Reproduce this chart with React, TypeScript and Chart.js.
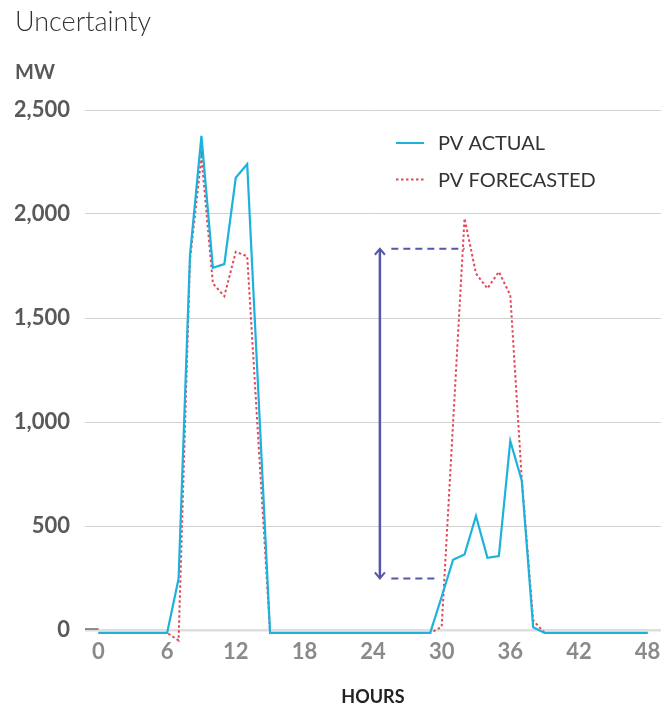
import { useEffect, useRef } from 'react';
import { Chart, registerables } from 'chart.js';

Chart.register(...registerables);

const hours = [
  0, 1, 2, 3, 4, 5, 6, 7, 8, 9, 10, 11, 12, 13, 14, 15, 16, 17, 18, 19, 20, 21, 22, 23, 24,
  25, 26, 27, 28, 29, 30, 31, 32, 33, 34, 35, 36, 37, 38, 39, 40, 41, 42, 43, 44, 45, 46, 47, 48,
];

const pvActual = [
  -14, -14, -14, -14, -14, -14, -14,
  246, 1802, 2376, 1741, 1759, 2174, 2240, 1113,
  -14, -14, -14, -14, -14, -14, -14, -14, -14, -14, -14, -14, -14, -14, -14,
  160, 338, 363, 548, 347, 355, 909, 719, 13,
  -14, -14, -14, -14, -14, -14, -14, -14, -14, -14,
];

const pvForecast = [
  -14, -14, -14, -14, -14, -14, -14,
  -50, 1780, 2275, 1666, 1605, 1818, 1797, 890,
  -14, -14, -14, -14, -14, -14, -14, -14, -14, -14, -14, -14, -14, -14, -14,
  15, 997, 1979, 1714, 1642, 1722, 1610, 730, 46,
  -14, -14, -14, -14, -14, -14, -14, -14, -14, -14,
];

const xTickValues = [0, 6, 12, 18, 24, 30, 36, 42, 48];
const yTickValues = [0, 500, 1000, 1500, 2000, 2500];

// uncertainty annotation (hours / MW)
const arrowHour = 24.6;
const bandLow = 248;
const bandHigh = 1833;
const dashStartHour = 25.6;
const dashEndLowHour = 29.7;
const dashEndHighHour = 32;

const seriesLabels = ['PV ACTUAL', 'PV FORECASTED'];
const BLUE = '#1cb2dc';
const RED = '#e2485a';
const ARROW = '#5457a6';

const annotationPlugin = {
  id: 'uncertaintyAnnotation',
  afterDatasetsDraw(chart: any) {
    const { ctx, chartArea } = chart;
    const xs = chart.scales.x;
    const ys = chart.scales.y;
    ctx.save();

    // short dark tick at zero
    const y0 = ys.getPixelForValue(0);
    ctx.strokeStyle = '#6a6a6a';
    ctx.lineWidth = 1.5;
    ctx.beginPath();
    ctx.moveTo(chartArea.left, y0 - 1);
    ctx.lineTo(xs.getPixelForValue(0), y0 - 1);
    ctx.stroke();

    // arrow
    const ax = xs.getPixelForValue(arrowHour);
    const yTop = ys.getPixelForValue(bandHigh);
    const yBot = ys.getPixelForValue(bandLow);
    ctx.strokeStyle = ARROW;
    ctx.lineWidth = 2.5;
    ctx.beginPath();
    ctx.moveTo(ax, yTop + 1);
    ctx.lineTo(ax, yBot - 1);
    ctx.stroke();
    ctx.lineWidth = 2;
    ctx.beginPath();
    ctx.moveTo(ax - 5, yTop + 6);
    ctx.lineTo(ax, yTop);
    ctx.lineTo(ax + 5, yTop + 6);
    ctx.moveTo(ax - 5, yBot - 6);
    ctx.lineTo(ax, yBot);
    ctx.lineTo(ax + 5, yBot - 6);
    ctx.stroke();

    // dashed guides
    ctx.setLineDash([7, 5]);
    ctx.lineWidth = 2;
    ctx.beginPath();
    ctx.moveTo(xs.getPixelForValue(dashStartHour), yTop);
    ctx.lineTo(xs.getPixelForValue(dashEndHighHour), yTop);
    ctx.moveTo(xs.getPixelForValue(dashStartHour), yBot);
    ctx.lineTo(xs.getPixelForValue(dashEndLowHour), yBot);
    ctx.stroke();
    ctx.setLineDash([]);

    // legend
    const lx = chartArea.left + 311;
    const ly = chartArea.top + 33;
    const rowGap = 36.6;
    const colors = [BLUE, RED];
    seriesLabels.forEach((label, i) => {
      const yy = ly + i * rowGap;
      ctx.strokeStyle = colors[i];
      ctx.lineWidth = 2;
      ctx.setLineDash(i === 1 ? [2.5, 2.5] : []);
      ctx.beginPath();
      ctx.moveTo(lx, yy);
      ctx.lineTo(lx + 28, yy);
      ctx.stroke();
      ctx.setLineDash([]);
      ctx.fillStyle = '#333333';
      ctx.font = '400 20px Lato';
      ctx.textBaseline = 'middle';
      ctx.textAlign = 'left';
      ctx.fillText(label, lx + 42, yy + 0.5);
    });

    ctx.restore();
  },
};

export default function App() {
  const canvasRef = useRef<HTMLCanvasElement | null>(null);

  useEffect(() => {
    if (!canvasRef.current) return;
    const chart = new Chart(canvasRef.current, {
      type: 'line',
      data: {
        datasets: [
          {
            label: seriesLabels[0],
            data: hours.map((h, i) => ({ x: h, y: pvActual[i] })),
            borderColor: BLUE,
            backgroundColor: BLUE,
            borderWidth: 2.2,
            pointRadius: 0,
            tension: 0,
            clip: false as any,
          },
          {
            label: seriesLabels[1],
            data: hours.map((h, i) => ({ x: h, y: pvForecast[i] })),
            borderColor: RED,
            backgroundColor: RED,
            borderWidth: 2,
            borderDash: [2.5, 2.5],
            pointRadius: 0,
            tension: 0,
            clip: false as any,
          },
        ],
      },
      options: {
        animation: false,
        responsive: false,
        layout: { padding: { left: 15, right: 8, top: 0, bottom: 1.5 } },
        plugins: {
          legend: { display: false },
          tooltip: { enabled: false },
          title: {
            display: true,
            text: 'Uncertainty',
            align: 'start',
            color: '#333333',
            font: { family: 'Lato', size: 27, weight: '300' as any },
            padding: { top: 6.5, bottom: 10 },
          },
          subtitle: {
            display: true,
            text: 'MW',
            align: 'start',
            color: '#58595b',
            font: { family: 'Lato', size: 20, weight: 'bold' },
            padding: { top: 12, bottom: 25.1 },
          },
        },
        scales: {
          x: {
            type: 'linear',
            min: -1.18,
            max: 49.16,
            afterBuildTicks: (scale: any) => {
              scale.ticks = xTickValues.map((v) => ({ value: v }));
            },
            grid: { display: false, drawTicks: false },
            border: { display: false },
            ticks: {
              color: '#8a8a8c',
              font: { family: 'Lato', size: 22, weight: 'bold' },
              padding: 8.5,
              maxRotation: 0,
              autoSkip: false,
            },
            title: {
              display: true,
              text: 'HOURS',
              color: '#222222',
              font: { family: 'Lato', size: 18, weight: 'bold' },
              padding: { top: 12.5, bottom: 0 },
            },
          },
          y: {
            min: 0,
            max: 2500,
            afterBuildTicks: (scale: any) => {
              scale.ticks = yTickValues.map((v) => ({ value: v }));
            },
            afterFit: (scale: any) => {
              scale.width = 70;
            },
            grid: {
              drawTicks: false,
              color: (c: any) => (c.tick && c.tick.value === 0 ? '#dedede' : '#d2d2d2'),
              lineWidth: (c: any) => (c.tick && c.tick.value === 0 ? 2.5 : 1),
            },
            border: { display: false },
            ticks: {
              color: '#58595b',
              font: { family: 'Lato', size: 22, weight: 'bold' },
              padding: 15,
              callback: (v: any) => Number(v).toLocaleString('en-US'),
            },
          },
        },
      },
      plugins: [annotationPlugin],
    });
    return () => chart.destroy();
  }, []);

  return (
    <div style={{ position: 'absolute', left: 0, top: 0, width: 669, height: 709, background: '#fff' }}>
      <canvas ref={canvasRef} width={669} height={709} style={{ width: 669, height: 709 }} />
    </div>
  );
}
